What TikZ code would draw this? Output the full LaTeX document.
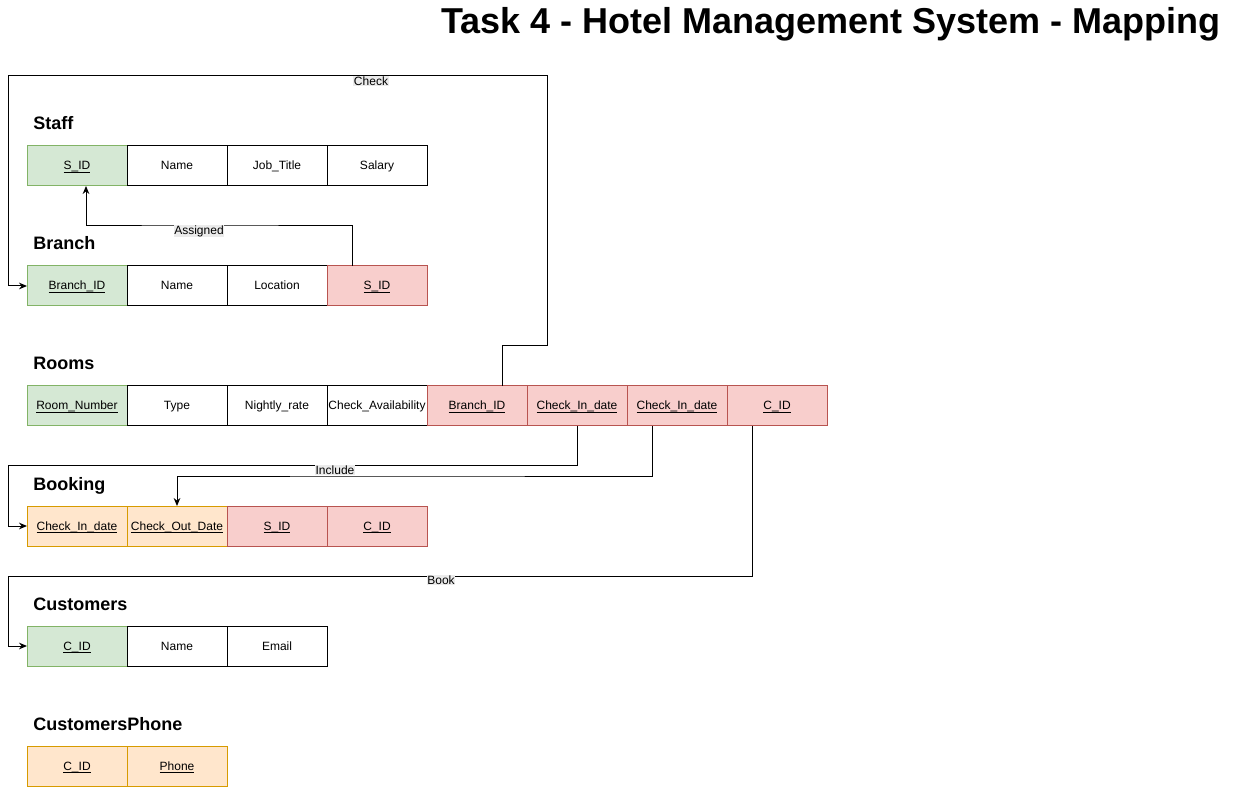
\documentclass[tikz,border=0pt]{standalone}
\usepackage{fontspec}
\setmainfont{Liberation Sans}
\usetikzlibrary{arrows.meta,calc}
\definecolor{pkfill}{HTML}{D5E8D4}\definecolor{pkline}{HTML}{82B366}
\definecolor{fkfill}{HTML}{F8CECC}\definecolor{fkline}{HTML}{B85450}
\definecolor{okfill}{HTML}{FFE6CC}\definecolor{okline}{HTML}{D79B00}
\definecolor{lblbg}{HTML}{EBEBEB}
\newcommand\ulkey[1]{\setbox0\hbox{#1}\rlap{\rule[-1.9pt]{\wd0}{0.6pt}}\box0}
\tikzset{
  cell/.style={draw=black,fill=white,line width=0.75pt,minimum width=75pt,minimum height=30pt,inner sep=0pt,outer sep=0pt,text height=6.5pt,text depth=0.5pt,font=\fontsize{9pt}{10pt}\selectfont},
  pk/.style={cell,fill=pkfill,draw=pkline},
  fk/.style={cell,fill=fkfill,draw=fkline},
  ok/.style={cell,fill=okfill,draw=okline},
  heading/.style={anchor=base west,inner sep=0pt,font=\fontsize{13.5pt}{15pt}\selectfont\bfseries},
  lbl/.style={fill=lblbg,inner sep=0.6pt,font=\fontsize{9pt}{10pt}\selectfont},
  conn/.style={line width=0.75pt,-{Stealth[length=6pt,width=5pt]}}
}
\begin{document}
\begin{tikzpicture}[x=0.75pt,y=-0.75pt]
\useasboundingbox (0,0) rectangle (1238,787);
\node[anchor=base east,inner sep=0pt,font=\fontsize{27pt}{30pt}\selectfont\bfseries] (title) at (1221,34) {Task 4 - Hotel Management System - Mapping};

% Staff
\node[heading] (hs) at (33,130) {Staff};
\node[pk] (s1) at (77,166) {\ulkey{S\_ID}};
\node[cell] (s2) at (177,166) {Name};
\node[cell] (s3) at (277,166) {Job\_Title};
\node[cell] (s4) at (377,166) {Salary};

% Branch
\node[heading] (hb) at (33,250) {Branch};
\node[pk] (b1) at (77,286) {\ulkey{Branch\_ID}};
\node[cell] (b2) at (177,286) {Name};
\node[cell] (b3) at (277,286) {Location};
\node[fk] (b4) at (377,286) {\ulkey{S\_ID}};

% Rooms
\node[heading] (hr) at (33,370) {Rooms};
\node[pk] (r1) at (77,406) {\ulkey{Room\_Number}};
\node[cell] (r2) at (177,406) {Type};
\node[cell] (r3) at (277,406) {Nightly\_rate};
\node[cell] (r4) at (377,406) {Check\_Availability};
\node[fk] (r5) at (477,406) {\ulkey{Branch\_ID}};
\node[fk] (r6) at (577,406) {\ulkey{Check\_In\_date}};
\node[fk] (r7) at (677,406) {\ulkey{Check\_In\_date}};
\node[fk] (r8) at (777,406) {\ulkey{C\_ID}};

% Booking
\node[heading] (hk) at (33,490) {Booking};
\node[ok] (k1) at (77,526) {\ulkey{Check\_In\_date}};
\node[ok] (k2) at (177,526) {\ulkey{Check\_Out\_Date}};
\node[fk] (k3) at (277,526) {\ulkey{S\_ID}};
\node[fk] (k4) at (377,526) {\ulkey{C\_ID}};

% Customers
\node[heading] (hc) at (33,610) {Customers};
\node[pk] (c1) at (77,646) {\ulkey{C\_ID}};
\node[cell] (c2) at (177,646) {Name};
\node[cell] (c3) at (277,646) {Email};

% CustomersPhone
\node[heading] (hp) at (33,730) {CustomersPhone};
\node[ok] (p1) at (77,766) {\ulkey{C\_ID}};
\node[ok] (p2) at (177,766) {\ulkey{Phone}};

% Connectors
\draw[conn] ($(r5.north)+(25,0)$) |- (547,346) -- (547,76) -- (8,76) |- (b1.west);
\node[lbl] (lcheck) at (371,81) {Check};

\draw[conn] ($(b4.north)+(-25,0)$) |- (200,226) -| ($(s1.south)+(9,0)$);
\node[lbl] (lassigned) at (199,231) {Assigned};

\draw[conn] (r6.south) |- (8,466) |- (k1.west);
\node[lbl] (linclude) at (335,470) {Include};

\draw[conn] ($(r7.south)+(-25,0)$) |- (400,476) -| (k2.north);

\draw[conn] ($(r8.south)+(-25,0)$) |- (8,576) |- (c1.west);
\node[lbl] (lbook) at (441,580) {Book};
\end{tikzpicture}
\end{document}
